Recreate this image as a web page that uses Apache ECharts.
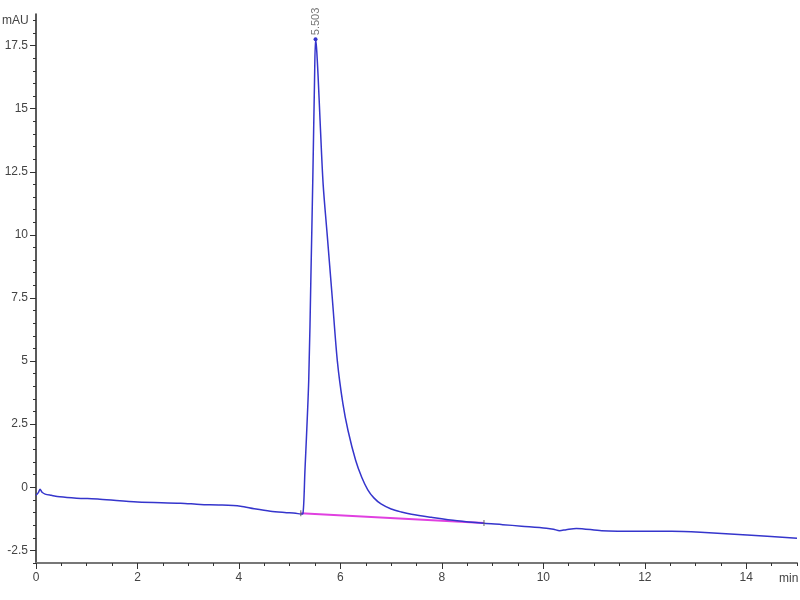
<!DOCTYPE html>
<html>
<head>
<meta charset="utf-8">
<script src="https://cdn.jsdelivr.net/npm/echarts@6/dist/echarts.min.js"></script>
<style>html,body{margin:0;padding:0;background:#fff}#c{width:800px;height:600px}</style>
</head>
<body>
<div id="c"></div>
<script>
// Retention time (min) and absorbance (mAU)
var times = [0, 0.05, 0.08, 0.12, 0.18, 0.3, 0.47, 0.8, 1.26, 2.0, 2.85, 3.24, 3.6, 4.03, 4.3, 4.62, 4.9, 5.12, 5.22, 5.26, 5.3, 5.375, 5.42, 5.455, 5.49, 5.51, 5.53, 5.56, 5.6, 5.66, 5.74, 5.84, 5.94, 6.05, 6.15, 6.3, 6.42, 6.54, 6.66, 6.8, 7.0, 7.2, 7.4, 7.79, 8.3, 8.83, 9.2, 9.57, 10.06, 10.2, 10.32, 10.45, 10.65, 11.15, 11.94, 12.53, 13.1, 14.1, 15.0];
var signal = [-0.32, -0.2, -0.08, -0.2, -0.27, -0.32, -0.38, -0.43, -0.47, -0.58, -0.63, -0.68, -0.7, -0.75, -0.85, -0.95, -1.0, -1.03, -1.06, -1.05, 0.6, 4.2, 8.5, 12.1, 16.1, 17.75, 17.4, 16.3, 14.5, 12.0, 10.0, 7.5, 5.0, 3.3, 2.25, 1.07, 0.4, -0.1, -0.42, -0.66, -0.86, -0.98, -1.07, -1.19, -1.33, -1.43, -1.48, -1.54, -1.62, -1.66, -1.72, -1.68, -1.63, -1.72, -1.74, -1.74, -1.78, -1.9, -2.02];
// Integration baseline
var baseTimes = [5.22, 8.83];
var baseValues = [-1.03, -1.42];
// Peak annotation
var peakTime = 5.51, peakValue = 17.75, peakLabel = '5.503';
// Tick labels
var yLabels = [-2.5, 0, 2.5, 5, 7.5, 10, 12.5, 15, 17.5];
var yMinor = [];
for (var i = -3; i <= 18.5; i += 0.5) yMinor.push(i);
var xLabels = [0, 2, 4, 6, 8, 10, 12, 14];
var xMinor = [];
for (var j = 0; j <= 15; j += 0.5) xMinor.push(j);

var trace = times.map(function (t, k) { return [t, signal[k]]; });
var base = baseTimes.map(function (t, k) { return [t, baseValues[k]]; });

var font = 'Liberation Sans Narrow, Liberation Sans, Arial, sans-serif';
var chart = echarts.init(document.getElementById('c'), null, { renderer: 'canvas' });
chart.setOption({
  animation: false,
  backgroundColor: '#fff',
  grid: { left: 36, right: 3, top: 14, bottom: 37, containLabel: false },
  xAxis: [{
    type: 'value', min: 0, max: 15, interval: 2, position: 'bottom',
    axisLine: { show: true, onZero: false, lineStyle: { color: '#777', width: 2 } },
    axisTick: { show: true, customValues: xLabels, length: 6, lineStyle: { color: '#333' } },
    axisLabel: { customValues: xLabels, margin: 9, color: '#444', fontSize: 12, fontFamily: font },
    splitLine: { show: false }
  }, {
    type: 'value', min: 0, max: 15, position: 'bottom',
    axisLine: { show: false, onZero: false },
    axisTick: { show: true, customValues: xMinor, length: 3, lineStyle: { color: '#333' } },
    axisLabel: { show: false },
    splitLine: { show: false }
  }],
  yAxis: [{
    type: 'value', min: -3, max: 18.75, position: 'left',
    axisLine: { show: true, onZero: false, lineStyle: { color: '#222', width: 1.5 } },
    axisTick: { show: true, customValues: yLabels, length: 6, lineStyle: { color: '#333' } },
    axisLabel: { customValues: yLabels, margin: 8, color: '#444', fontSize: 12, fontFamily: font },
    splitLine: { show: false }
  }, {
    type: 'value', min: -3, max: 18.75, position: 'left',
    axisLine: { show: false, onZero: false },
    axisTick: { show: true, customValues: yMinor, length: 3, lineStyle: { color: '#333' } },
    axisLabel: { show: false },
    splitLine: { show: false }
  }],
  series: [{
    type: 'line', data: base, xAxisIndex: 0, yAxisIndex: 0,
    showSymbol: false, lineStyle: { color: '#e040e0', width: 2 }, z: 2,
    markPoint: {
      symbol: 'rect', symbolSize: [1, 6], itemStyle: { color: '#666' }, label: { show: false },
      data: [{ coord: [baseTimes[1], baseValues[1]] }, { coord: [baseTimes[0], baseValues[0]] }]
    }
  }, {
    type: 'line', data: trace, xAxisIndex: 0, yAxisIndex: 0,
    showSymbol: false, smooth: 0.3, lineStyle: { color: '#3535cc', width: 1.5 }, z: 3,
    markPoint: {
      symbol: 'circle', symbolSize: 4, itemStyle: { color: '#3535cc' },
      label: { show: true, position: 'top', distance: 2, rotate: 90, formatter: peakLabel, color: '#777', fontSize: 11, fontFamily: font, align: 'left', verticalAlign: 'middle' },
      data: [{ coord: [peakTime, peakValue] }]
    }
  }],
  graphic: [
    { type: 'text', left: 2, top: 15, style: { text: 'mAU', fill: '#444', font: '12px ' + font } },
    { type: 'text', left: 779, top: 573, style: { text: 'min', fill: '#444', font: '12px ' + font } }
  ]
});
</script>
</body>
</html>
